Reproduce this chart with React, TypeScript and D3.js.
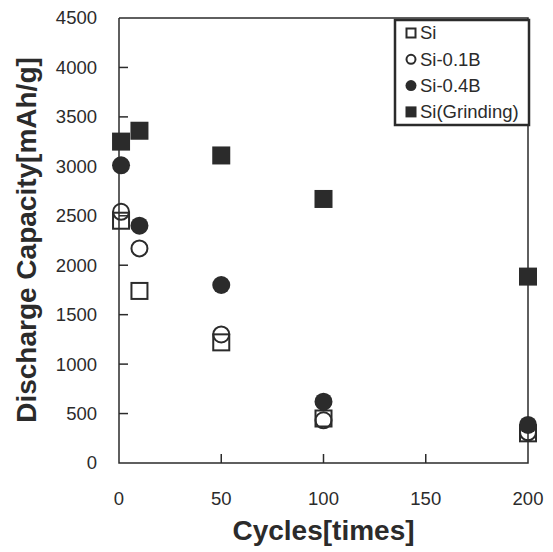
import React from 'react';
import * as d3 from 'd3';

// cycles at which capacity was measured
const cycles = [1, 10, 50, 100, 200];

// discharge capacity in mAh/g for each sample
const si = [2450, 1740, 1220, 450, 300];
const si01B = [2540, 2170, 1300, 432, 310];
const si04B = [3010, 2400, 1800, 620, 385];
const siGrinding = [3250, 3360, 3110, 2670, 1885];

const xTickLabels = [0, 50, 100, 150, 200];
const yTickLabels = [0, 500, 1000, 1500, 2000, 2500, 3000, 3500, 4000, 4500];

const seriesNames = ['Si', 'Si-0.1B', 'Si-0.4B', 'Si(Grinding)'];

const W = 553;
const H = 552;
const margin = { top: 18, right: 25, bottom: 89, left: 119 };
const ink = '#2b2b2b';
const font = '"Liberation Sans", Arial, sans-serif';

const Marker = ({ kind, x, y, size }: { kind: number; x: number; y: number; size: number }) => {
  const h = size / 2;
  if (kind === 0)
    return <rect x={x - h + 1} y={y - h + 1} width={size - 2} height={size - 2} fill="none" stroke={ink} strokeWidth={2} />;
  if (kind === 1) return <circle cx={x} cy={y} r={h - 1} fill="none" stroke={ink} strokeWidth={2} />;
  if (kind === 2) return <circle cx={x} cy={y} r={h} fill={ink} />;
  return <rect x={x - h} y={y - h} width={size} height={size} fill={ink} />;
};

const App = () => {
  const x = d3.scaleLinear().domain([0, 200]).range([margin.left, W - margin.right]);
  const y = d3.scaleLinear().domain([0, 4500]).range([H - margin.bottom, margin.top]);
  const x0 = x(0), x1 = x(200), y0 = y(0), y1 = y(4500);
  const series = [si, si01B, si04B, siGrinding];

  const legend = { left: 395, top: 20, right: 529, bottom: 125 };

  return (
    <svg width={W} height={H} style={{ position: 'absolute', left: 0, top: 0, background: '#fff' }}>
      <g fill={ink} fontFamily={font}>
        {/* y tick marks and labels */}
        {yTickLabels.map((v) => (
          <g key={v}>
            {v > 0 && v < 4500 && <line x1={x0} x2={x0 + 9} y1={y(v)} y2={y(v)} stroke={ink} strokeWidth={1.5} />}
            <text x={97} y={y(v)} dy="0.35em" textAnchor="end" fontSize={18.5}>{v}</text>
          </g>
        ))}
        {/* x tick marks and labels */}
        {xTickLabels.map((v) => (
          <g key={v}>
            {v > 0 && v < 200 && <line x1={x(v)} x2={x(v)} y1={y0} y2={y0 - 9} stroke={ink} strokeWidth={1.5} />}
            <text x={x(v)} y={499} dy="0.35em" textAnchor="middle" fontSize={18.5}>{v}</text>
          </g>
        ))}

        {/* frame */}
        <path d={`M${x0},${y1}V${y0}H${x1}V${y1}H${x0}`} fill="none" stroke={ink} strokeWidth={1.5} />

        {/* markers */}
        {series.map((s, k) => (
          <g key={k}>
            {s.map((v, i) => (
              <Marker key={i} kind={k} x={x(cycles[i])} y={y(v)} size={18} />
            ))}
          </g>
        ))}

        {/* legend */}
        <rect x={legend.left} y={legend.top} width={legend.right - legend.left} height={legend.bottom - legend.top}
          fill="#fff" stroke={ink} strokeWidth={2.5} />
        {seriesNames.map((n, k) => (
          <g key={n}>
            <Marker kind={k} x={411} y={33 + k * 26.3} size={11} />
            <text x={420} y={33 + k * 26.3} dy="0.35em" fontSize={18.5}>{n}</text>
          </g>
        ))}

        {/* axis titles */}
        <text x={(x0 + x1) / 2} y={540} textAnchor="middle" fontSize={28} fontWeight="bold">Cycles[times]</text>
        <text transform={`translate(36,240) rotate(-90)`} textAnchor="middle" fontSize={28} fontWeight="bold">
          Discharge Capacity[mAh/g]
        </text>
      </g>
    </svg>
  );
};

export default App;
